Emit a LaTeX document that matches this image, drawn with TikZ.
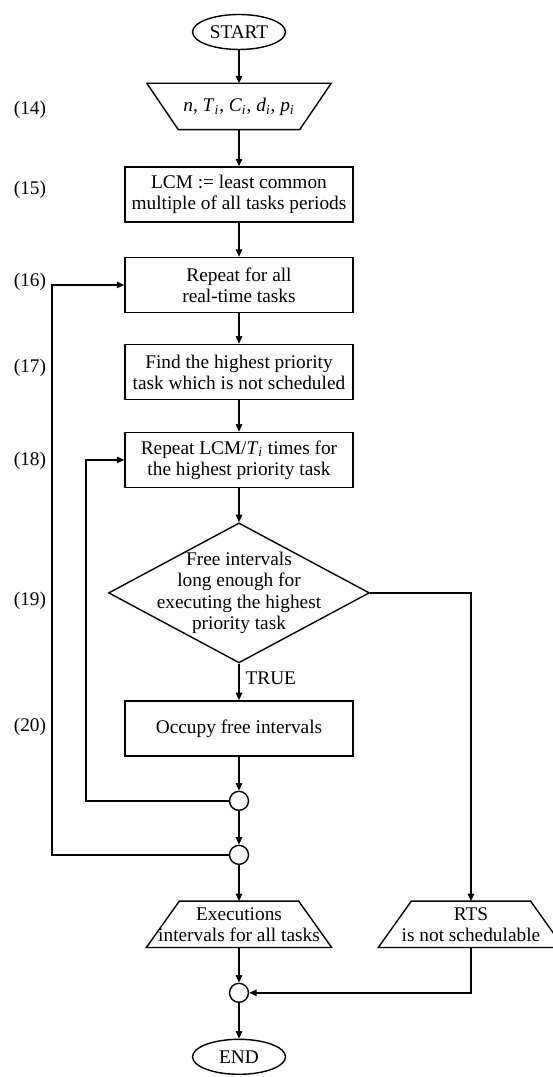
\documentclass[tikz,border=0pt]{standalone}
\usepackage{fontspec}
\setmainfont{Liberation Serif}
\usetikzlibrary{shapes.geometric, positioning, arrows.meta}

\newcommand{\tsub}[2]{\textit{#1}\textsubscript{\textit{#2}}}

\begin{document}
\begin{tikzpicture}[x=0.02cm, y=-0.02cm, line width=0.8pt, >={Triangle[length=1.5mm, width=1.3mm]},
	font=\fontsize{11}{12}\selectfont,
	term/.style={draw, ellipse, minimum width=1.86cm, minimum height=0.7cm, inner sep=1pt},
	proc/.style={draw, rectangle, minimum width=4.56cm, minimum height=1.1cm, inner xsep=2pt, align=center},
	cond/.style={draw, diamond, minimum width=5.22cm, minimum height=2.8cm, inner sep=-18pt, align=center},
	joint/.style={draw, circle, minimum size=0.38cm, inner sep=0pt},
	datain/.style={minimum width=3.66cm, minimum height=0.9cm, inner sep=0pt, align=center,
		append after command={\pgfextra{\draw (\tikzlastnode.north west) -- (\tikzlastnode.north east)
			-- ([xshift=-0.63cm]\tikzlastnode.south east) -- ([xshift=0.63cm]\tikzlastnode.south west) -- cycle;}}},
	dataout/.style={minimum width=3.68cm, minimum height=0.9cm, inner sep=0pt, align=center,
		append after command={\pgfextra{\draw (\tikzlastnode.south west) -- (\tikzlastnode.south east)
			-- ([xshift=-0.66cm]\tikzlastnode.north east) -- ([xshift=0.66cm]\tikzlastnode.north west) -- cycle;}}},
	steplabel/.style={inner sep=0pt}]
	\useasboundingbox (0,0) rectangle (553,1077);

	\node[term] (start) at (239,32) {START};
	\node[datain] (input) [node distance=14.9mm, below of=start] {\textit{n}, \tsub{T}{i}, \tsub{C}{i}, \tsub{d}{i}, \tsub{p}{i}};
	\node[proc] (lcm) [node distance=17.6mm, below of=input] {LCM := least common\\multiple of all tasks periods};
	\node[proc] (rep) [node distance=18.1mm, below of=lcm] {Repeat for all\\real-time tasks};
	\node[proc] (find) [node distance=17.4mm, below of=rep] {Find the highest priority\\task which is not scheduled};
	\node[proc] (reprep) [node distance=17.6mm, below of=find] {Repeat LCM/\tsub{T}{i} times for\\the highest priority task};
	\node[cond] (free) [node distance=26.6mm, below of=reprep] {Free intervals\\long enough for\\executing the highest\\priority task};
	\node[proc] (occupy) [node distance=27.1mm, below of=free] {Occupy free intervals};
	\node[joint] (j1) [node distance=14.5mm, below of=occupy] {};
	\node[joint] (j2) [node distance=10.8mm, below of=j1] {};
	\node[dataout] (result) [node distance=13.9mm, below of=j2] {Executions\\intervals for all tasks};
	\node[dataout] (fail) [node distance=46.4mm, right of=result] {RTS\\is not schedulable};
	\node[joint] (j3) [node distance=13.7mm, below of=result] {};
	\node[term] (end) [node distance=12.8mm, below of=j3] {END};

	% step numbers
	\node[steplabel] (l14) at (30,110) {(14)};
	\node[steplabel] (l15) at (30,190) {(15)};
	\node[steplabel] (l16) at (30,282) {(16)};
	\node[steplabel] (l17) at (30,368) {(17)};
	\node[steplabel] (l18) at (30,461) {(18)};
	\node[steplabel] (l19) at (30,601) {(19)};
	\node[steplabel] (l20) at (30,727) {(20)};

	\coordinate (outer) at (52,0);
	\coordinate (inner) at (86,0);

	\draw[->] (start) -- (input);
	\draw[->] (input) -- (lcm);
	\draw[->] (lcm) -- (rep);
	\draw[->] (rep) -- (find);
	\draw[->] (find) -- (reprep);
	\draw[->] (reprep) -- (free);
	\draw[->] (free) -- node[right, pos=0.4] {TRUE} (occupy);
	\draw[->] (occupy) -- (j1);
	\draw[->] (j1) -- (j2);
	\draw[->] (j2) -- (result);
	\draw[->] (result) -- (j3);
	\draw[->] (j3) -- (end);
	\draw[->] (free.east) -| (fail.north);
	\draw[->] (fail.south) |- (j3.east);
	% loops back
	\draw[->] (j1.west) -- (j1 -| inner) -- (reprep -| inner) -- (reprep.west);
	\draw[->] (j2.west) -- (j2 -| outer) -- (rep -| outer) -- (rep.west);
\end{tikzpicture}
\end{document}
